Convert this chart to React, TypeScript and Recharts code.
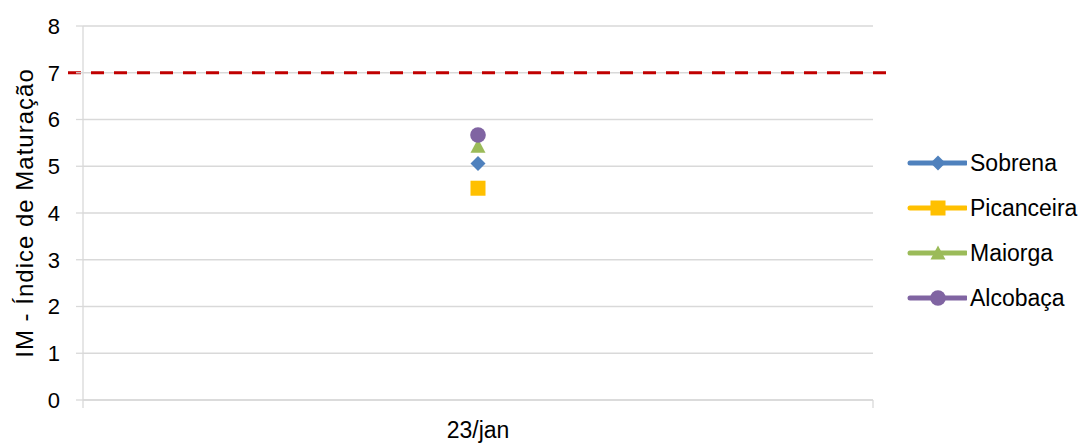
import { ComposedChart, Line, XAxis, YAxis, CartesianGrid, ReferenceLine, Legend } from 'recharts';

const categories = ['23/jan'];
const sobrena = [5.06];
const picanceira = [4.53];
const maiorga = [5.43];
const alcobaca = [5.67];
const yTicks = [0, 1, 2, 3, 4, 5, 6, 7, 8];
const threshold = 7;

const FONT = '"Liberation Sans", Arial, sans-serif';
const GRID = '#d9d9d9';

type Shape = 'diamond' | 'square' | 'triangle' | 'circle';

const series: { key: string; name: string; color: string; shape: Shape; values: number[] }[] = [
  { key: 'sobrena', name: 'Sobrena', color: '#4F81BD', shape: 'diamond', values: sobrena },
  { key: 'picanceira', name: 'Picanceira', color: '#FFC000', shape: 'square', values: picanceira },
  { key: 'maiorga', name: 'Maiorga', color: '#9BBB59', shape: 'triangle', values: maiorga },
  { key: 'alcobaca', name: 'Alcobaça', color: '#8064A2', shape: 'circle', values: alcobaca },
];

const data = categories.map((label, i) => {
  const row: Record<string, number | string> = { label, x: i + 0.5 };
  series.forEach((s) => {
    row[s.key] = s.values[i];
  });
  return row;
});

// tick marks on category boundaries, labels at category centres
const xTicks: number[] = [];
for (let i = 0; i <= categories.length; i++) {
  xTicks.push(i);
  if (i < categories.length) xTicks.push(i + 0.5);
}

function Marker({ shape, cx, cy, color }: { shape: Shape; cx: number; cy: number; color: string }) {
  if (cx == null || cy == null) return null;
  switch (shape) {
    case 'diamond':
      return <polygon points={`${cx},${cy - 7.5} ${cx + 7.5},${cy} ${cx},${cy + 7.5} ${cx - 7.5},${cy}`} fill={color} />;
    case 'square':
      return <rect x={cx - 7.5} y={cy - 7.5} width={15} height={15} fill={color} />;
    case 'triangle':
      return <polygon points={`${cx},${cy - 7.5} ${cx + 7.5},${cy + 6.5} ${cx - 7.5},${cy + 6.5}`} fill={color} />;
    default:
      return <circle cx={cx} cy={cy} r={7.8} fill={color} />;
  }
}

function XTick(props: any) {
  const { x, y, payload } = props;
  const v = payload.value as number;
  if (Number.isInteger(v)) {
    return <line x1={x} x2={x} y1={y - 8} y2={y} stroke={GRID} strokeWidth={1.3} />;
  }
  return (
    <text x={x} y={y} dy={30} textAnchor="middle" fontSize={23} fill="#000" fontFamily={FONT}>
      {categories[Math.floor(v)]}
    </text>
  );
}

function YLabel() {
  return (
    <text
      x={33}
      y={213}
      transform="rotate(-90, 33, 213)"
      textAnchor="middle"
      fontSize={24}
      letterSpacing={1}
      fill="#000"
      fontFamily={FONT}
    >
      IM - Índice de Maturação
    </text>
  );
}

function renderLegend() {
  return (
    <div style={{ fontFamily: FONT }}>
      {series.map((s) => (
        <div key={s.key} style={{ display: 'flex', alignItems: 'center', height: 45 }}>
          <svg width={62} height={20}>
            <line x1={5} x2={61} y1={10} y2={10} stroke={s.color} strokeWidth={5} strokeLinecap="round" />
            <Marker shape={s.shape} cx={33} cy={10} color={s.color} />
          </svg>
          <span style={{ fontSize: 23, marginLeft: 3, color: '#000' }}>{s.name}</span>
        </div>
      ))}
    </div>
  );
}

export default function App() {
  return (
    <div style={{ position: 'absolute', left: 0, top: 0, width: 1081, height: 443, background: '#fff' }}>
      <ComposedChart width={1081} height={443} data={data} margin={{ top: 26, right: 32, bottom: 0, left: 0 }}>
        <CartesianGrid vertical={false} stroke={GRID} strokeWidth={1.3} />
        <XAxis
          type="number"
          dataKey="x"
          domain={[0, categories.length]}
          ticks={xTicks}
          interval={0}
          height={43}
          tickSize={8}
          tickMargin={0}
          tickLine={false}
          axisLine={{ stroke: GRID, strokeWidth: 1.3 }}
          tick={<XTick />}
        />
        <YAxis
          domain={[0, 8]}
          ticks={yTicks}
          interval={0}
          width={83}
          tickSize={7}
          tickMargin={16}
          axisLine={{ stroke: GRID, strokeWidth: 1.3 }}
          tickLine={{ stroke: GRID, strokeWidth: 1.3 }}
          tick={{ fontSize: 22, fill: '#000', fontFamily: FONT }}
          label={<YLabel />}
        />
        <ReferenceLine
          y={threshold}
          shape={(p: any) => (
            <line
              x1={p.x1 - 15}
              x2={p.x2 + 14}
              y1={p.y1}
              y2={p.y2}
              stroke="#C00000"
              strokeWidth={3}
              strokeDasharray="13 10"
            />
          )}
        />
        {series.map((s) => (
          <Line
            key={s.key}
            dataKey={s.key}
            name={s.name}
            stroke={s.color}
            strokeWidth={3}
            isAnimationActive={false}
            dot={(p: any) => <Marker key={`${s.key}-${p.index}`} shape={s.shape} cx={p.cx} cy={p.cy} color={s.color} />}
            activeDot={false}
          />
        ))}
        <Legend
          layout="vertical"
          verticalAlign="top"
          align="right"
          wrapperStyle={{ left: 905, top: 140.5, width: 176 }}
          content={renderLegend}
        />
      </ComposedChart>
    </div>
  );
}
